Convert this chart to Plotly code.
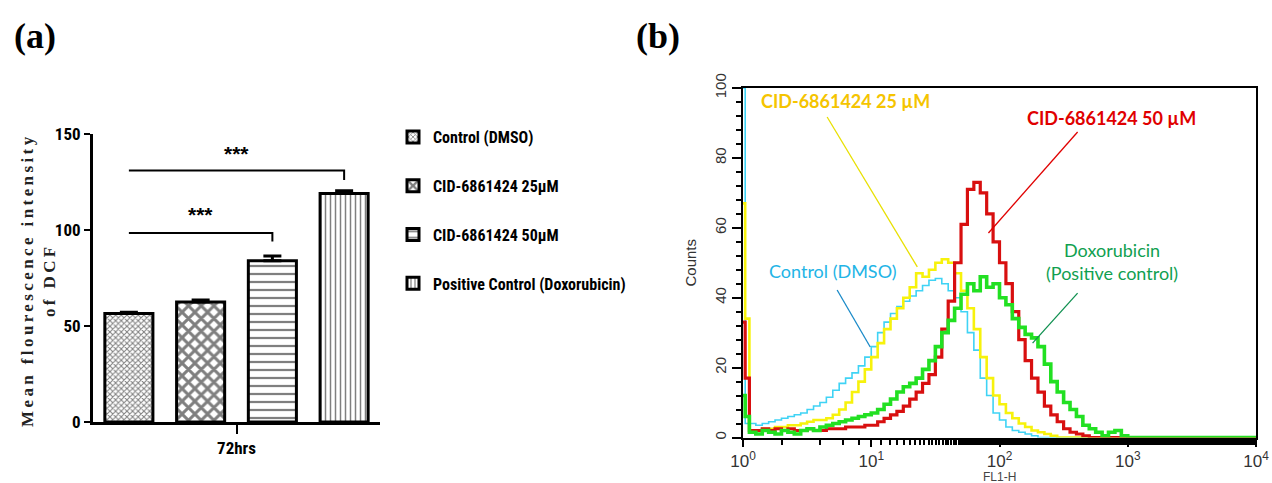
import plotly.graph_objects as go

# ---------------- (a) mean DCF fluorescence at 72 hrs ----------------
groups = ["Control (DMSO)", "CID-6861424 25µM", "CID-6861424 50µM",
          "Positive Control (Doxorubicin)"]
mean_dcf = [56.5, 62.5, 84.0, 119.0]
sem_dcf = [0.7, 1.0, 2.5, 1.5]
time_label = ["72hrs"]
bar_y_ticks = [0, 50, 100, 150]
# significance brackets: (from group, to group, bracket height, drop, label height)
sig_pairs = [(0, 3, 131, 126, 140), (0, 2, 98.5, 94, 108)]
sig_text = "***"

# ---------------- (b) flow cytometry histograms (FL1-H) ----------------
fl1_h = [1.0, 1.04, 1.122, 1.259, 1.413, 1.585, 1.778, 1.995, 2.239, 2.512, 2.818,
         3.162, 3.548, 3.981, 4.467, 5.012, 5.623, 6.310, 7.079, 7.943, 8.913,
         10.0, 11.22, 12.59, 14.13, 15.85, 17.78, 19.95, 22.39, 25.12, 28.18,
         31.62, 35.48, 39.81, 44.67, 50.12, 56.23, 63.10, 70.79, 79.43, 89.13,
         100.0, 112.2, 125.9, 141.3, 158.5, 177.8, 199.5, 223.9, 251.2, 281.8,
         316.2, 354.8, 398.1, 446.7, 501.2, 562.3, 631.0, 707.9, 794.3, 891.3,
         1000.0, 10000.0]

counts_dmso = [100, 4,
               4, 3.5, 4, 4.5, 5, 5.5, 6, 6.5, 7, 8,
               9, 10, 11.5, 13.5, 15.5, 17, 18.5, 20.5, 23, 26,
               30, 33, 35.5, 37.5, 39, 40.5, 42, 43.5, 45, 45.5,
               44, 42, 40, 36, 30, 25, 17, 12, 7, 5,
               3, 2, 1.5, 1, 0.5, 0, 0, 0, 0, 0,
               0, 0, 0, 0, 0, 0, 0, 0, 0, 0,
               0]
counts_25 = [67, 34,
             2, 2, 2.5, 2.5, 3, 3, 3.5, 3.5, 4, 4.5,
             5, 5, 5.5, 6.5, 8, 10, 13, 16, 19.5, 23,
             27, 31, 34, 37, 40, 43, 47, 46, 48, 50,
             51, 50, 47, 42, 37, 31, 23, 17, 12, 9.5,
             7, 5.5, 4, 3, 2, 1.5, 1, 0.5, 0, 0,
             0, 0, 0, 0, 0, 0, 0, 0, 0, 0,
             0]
counts_50 = [33, 17,
             2, 2, 2.5, 2, 2.5, 2, 2.5, 2, 2, 2.5,
             2, 2, 2.5, 2.5, 2.5, 3, 3, 3, 3.5, 3.5,
             4.5, 5.5, 6.5, 7.5, 9, 11, 13, 15.5, 18, 23,
             31, 39, 50, 61, 71, 73, 70, 64, 56, 50,
             44, 36, 28, 22, 17, 13, 9, 6.5, 4.5, 2.5,
             1.5, 1, 0.5, 0, 0, 0, 0, 0, 0, 0,
             0]
counts_dox = [12, 6,
              1.5, 1, 2, 1.5, 1, 2, 1.5, 1, 2, 2.5,
              2, 3, 3.5, 4, 4.5, 5, 5.5, 6, 6.5, 7,
              8, 9.5, 11, 13, 14.5, 15.5, 17, 19.5, 22, 26,
              30, 33.5, 37, 41, 44, 42, 46, 43, 44, 40,
              38, 34, 31.5, 29.5, 28.5, 26, 21, 16, 13, 10,
              8, 6, 3.5, 2.5, 1.5, 0.5, 1.5, 2, 0.5, 0,
              0]
hist_y_ticks = [0, 20, 40, 60, 80, 100]
hist_x_ticks = [1, 10, 100, 1000, 10000]
hist_x_text = ["10<sup>0</sup>", "10<sup>1</sup>", "10<sup>2</sup>",
               "10<sup>3</sup>", "10<sup>4</sup>"]

W, H = 1272, 483


def px(x):
    return x / W


def py(y):
    return 1 - y / H


NARROW = "Liberation Sans Narrow, Arial Narrow, Roboto Condensed, sans-serif"
SANS = "Liberation Sans, Arial, sans-serif"
LABEL = "Lato, Open Sans, sans-serif"
SERIF = "Liberation Serif, Times New Roman, serif"

fig = go.Figure()

patterns = [dict(shape="x", size=4, solidity=0.45),
            dict(shape="x", size=9, solidity=0.55),
            dict(shape="-", size=8, solidity=0.28),
            dict(shape="|", size=5, solidity=0.3)]

for i, (name, m, e, pat) in enumerate(zip(groups, mean_dcf, sem_dcf, patterns)):
    fig.add_trace(go.Bar(
        x=[i], y=[m], name=name, legendgroup=f"g{i}",
        width=0.67, xaxis="x", yaxis="y",
        marker=dict(color="white",
                    line=dict(color="black", width=3),
                    pattern=dict(fgcolor="black", bgcolor="white", **pat)),
        error_y=dict(type="data", symmetric=False, array=[e], arrayminus=[0],
                     color="black", thickness=3, width=9),
    ))

hist_series = [("Control (DMSO)", counts_dmso, "#3fd3f5", 1.6),
               ("CID-6861424 25 µM", counts_25, "#f7f20c", 2.6),
               ("CID-6861424 50 µM", counts_50, "#d80f0f", 3.2),
               ("Doxorubicin (Positive control)", counts_dox, "#22e022", 3.6)]
for name, counts, col, lw in hist_series:
    fig.add_trace(go.Scatter(
        x=fl1_h, y=counts, mode="lines", name=name, showlegend=False,
        line=dict(color=col, width=lw, shape="hv"),
        xaxis="x2", yaxis="y2",
    ))

shapes = []
annotations = []
for a, b, hy, drop, ty in sig_pairs:
    shapes.append(dict(type="path", xref="x", yref="y",
                       path=f"M {a},{hy} L {b},{hy} L {b},{drop}",
                       line=dict(color="black", width=2)))
    annotations.append(dict(x=(a + b) / 2, y=ty, xref="x", yref="y", text=sig_text,
                            showarrow=False,
                            font=dict(family=SANS, size=21, color="black", weight="bold")))

# y-axis caption of panel (a), letter-spaced serif
annotations.append(dict(
    x=px(38), y=py(280), xref="paper", yref="paper", xanchor="center", yanchor="middle",
    textangle=-90, showarrow=False,
    text='<span style="letter-spacing:3.4px">Mean flourescence intensity</span><br>'
         '<span style="letter-spacing:3.4px">of DCF</span>',
    font=dict(family=SERIF, size=17, color="#222", weight="bold")))

# panel letters
for txt, x in [("(a)", 35), ("(b)", 658)]:
    annotations.append(dict(x=px(x), y=py(36), xref="paper", yref="paper", text=txt,
                            xanchor="center", yanchor="middle", showarrow=False,
                            font=dict(family=SERIF, size=36, color="black", weight="bold")))

# x caption of panel (b), just under the tick labels
annotations.append(dict(x=px(999), y=py(476.5), xref="paper", yref="paper", text="FL1-H",
                        xanchor="center", yanchor="middle", showarrow=False,
                        height=12, borderpad=0, valign="middle",
                        font=dict(family=SANS, size=12, color="#444")))

# histogram labels (annotation x in log10 units)
hist_labels = [
    ("CID-6861424 25 µM", 0.797, 96.3, "#f5c400", "bold"),
    ("CID-6861424 50 µM", 2.875, 91.4, "#e00000", "bold"),
    ("Control (DMSO)", 0.703, 47.6, "#22b4e6", "normal"),
    ("Doxorubicin<br>(Positive control)", 2.875, 50.5, "#10a050", "normal"),
]
for txt, lx, ly, col, wt in hist_labels:
    annotations.append(dict(x=lx, y=ly, xref="x2", yref="y2", text=txt, showarrow=False,
                            font=dict(family=LABEL, size=18, color=col, weight=wt)))

# leader lines from each label to its curve (shape x in FL1-H units)
leaders = [((4.53, 91.7), (22.86, 48.8), "#e8e000"),
           ((406.4, 87.4), (82.0, 58.5), "#e00000"),
           ((5.42, 42.2), (9.82, 25.9), "#1a8ac8"),
           ((406.4, 41.3), (181.1, 27.0), "#109050")]
for (x0, y0), (x1, y1), col in leaders:
    shapes.append(dict(type="line", xref="x2", yref="y2", x0=x0, y0=y0, x1=x1, y1=y1,
                       line=dict(color=col, width=1.3)))

fig.update_layout(
    width=W, height=H,
    margin=dict(l=0, r=0, t=0, b=0, autoexpand=False),
    paper_bgcolor="white", plot_bgcolor="white",
    barmode="overlay",
    showlegend=True,
    legend=dict(x=px(393), y=py(120), xanchor="left", yanchor="top",
                font=dict(family=NARROW, size=16, color="black", weight="bold"),
                tracegroupgap=25, bgcolor="rgba(0,0,0,0)"),
    xaxis=dict(domain=[px(93), px(380)], range=[-0.5, 3.5], automargin=False,
               showline=True, linecolor="black", linewidth=3,
               tickvals=[1.5], ticktext=time_label, ticks="outside",
               ticklen=9, tickwidth=2, tickcolor="black", showgrid=False, zeroline=False,
               tickfont=dict(family=NARROW, size=17, color="black", weight="bold"),
               anchor="y"),
    yaxis=dict(domain=[py(422), py(134)], range=[0, 150], automargin=False,
               showline=True, linecolor="black", linewidth=3,
               tickvals=bar_y_ticks, ticks="outside", ticklen=6, tickwidth=2,
               tickcolor="black", showgrid=False, zeroline=False,
               tickfont=dict(family=NARROW, size=17, color="black", weight="bold"),
               anchor="x"),
    xaxis2=dict(domain=[px(743), px(1256)], type="log", range=[0, 4], automargin=False,
                showline=True, mirror=True, linecolor="black", linewidth=2,
                tickvals=hist_x_ticks, ticktext=hist_x_text, ticks="outside",
                ticklen=7, tickwidth=1.5, tickcolor="black",
                minor=dict(ticks="outside", ticklen=5, tickwidth=1.5, tickcolor="black",
                           showgrid=False),
                showgrid=False, zeroline=False,
                tickfont=dict(family=SANS, size=17, color="#333"),
                anchor="y2"),
    yaxis2=dict(domain=[py(437.5), py(88)], range=[0, 100], automargin=False,
                showline=True, mirror=True, linecolor="black", linewidth=2,
                tickvals=hist_y_ticks, ticks="outside", ticklen=9, tickwidth=1.5,
                tickcolor="black", tickangle=-90,
                minor=dict(ticks="outside", ticklen=5, tickwidth=1.5, tickcolor="black",
                           dtick=4, showgrid=False),
                showgrid=False, zeroline=False,
                tickfont=dict(family=SANS, size=15, color="#333"),
                title=dict(text="Counts", font=dict(family=SANS, size=15, color="#333"),
                           standoff=12),
                anchor="x2"),
    shapes=shapes,
    annotations=annotations,
)

fig.write_html("out.html")
